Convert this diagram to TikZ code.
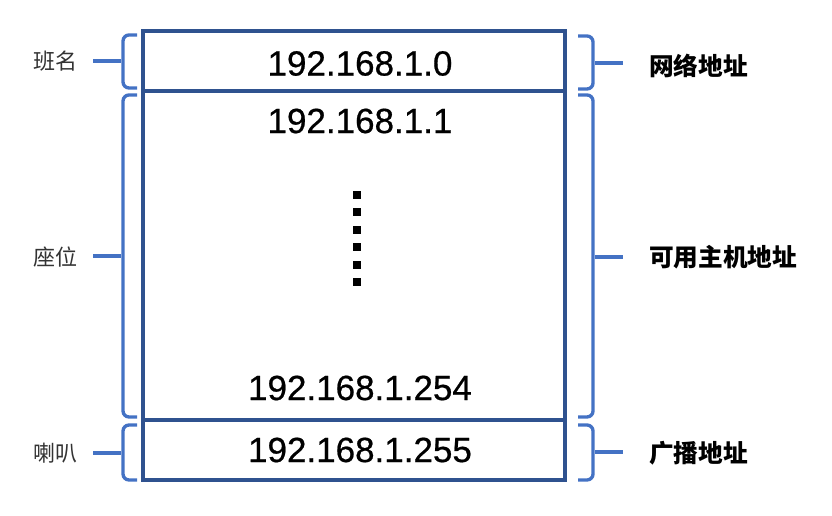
\documentclass[tikz,border=0pt]{standalone}
\usepackage{fontspec}
\setmainfont{Liberation Sans}
\newfontfamily\ipfont[FakeBold=0.6]{Liberation Sans}
\newfontfamily\cjk{Noto Sans CJK SC}
\definecolor{boxblue}{HTML}{2F528F}
\definecolor{braceblue}{HTML}{4472C4}
\definecolor{labelgray}{HTML}{333333}
\begin{document}
\begin{tikzpicture}[x=0.75pt,y=-0.75pt,
  sect/.style={draw=boxblue,line width=2.5pt,minimum width=316.5pt,inner sep=0,anchor=center},
  bracestyle/.style={draw=braceblue,line width=2.5pt,rounded corners=4.5pt},
  tick/.style={draw=braceblue,line width=2.5pt},
  ip/.style={font=\ipfont\fontsize{26.25}{30}\selectfont,text=black,inner sep=0},
  lbl/.style={font=\cjk\fontsize{16.5}{20}\selectfont,text=labelgray,inner sep=0},
  rlbl/.style={font=\cjk\bfseries\fontsize{18.5}{22}\selectfont,text=black,anchor=west,inner sep=0},
  dotsq/.style={fill=black,minimum size=6pt,inner sep=0}]
\useasboundingbox (0,0) rectangle (832,516);
% sections of the address block
\node[sect,minimum height=45pt] (net) at (354,61) {};
\node[sect,minimum height=246.75pt] (hosts) at (354,255.5) {};
\node[sect,minimum height=45pt] (bc) at (354,450) {};
% addresses
\node[ip] (ip0) at (360,63.5) {192.168.1.0};
\node[ip] (ip1) at (360,121) {192.168.1.1};
\node[ip] (ip254) at (360,388) {192.168.1.254};
\node[ip] (ip255) at (360,450) {192.168.1.255};
% vertical dots
\foreach \i [count=\k] in {195,212.4,229.8,247.2,264.6,282}
  \node[dotsq] (d\k) at (357,\i) {};
% left braces
\draw[bracestyle] (137,35) -- (123,35) -- (123,88) -- (137,88);
\draw[bracestyle] (137,95) -- (123,95) -- (123,417) -- (137,417);
\draw[bracestyle] (137,425) -- (123,425) -- (123,480) -- (137,480);
\coordinate (lb1) at (121,61);
\coordinate (lb2) at (121,256);
\coordinate (lb3) at (121,453);
\coordinate (le1) at (93,61);
\coordinate (le2) at (93,256);
\coordinate (le3) at (93,453);
\draw[tick] (lb1) -- (le1);
\draw[tick] (lb2) -- (le2);
\draw[tick] (lb3) -- (le3);
\node[lbl] (l1) at (55,61) {班名};
\node[lbl] (l2) at (55,257) {座位};
\node[lbl] (l3) at (55,453) {喇叭};
% right braces
\draw[bracestyle] (578,36) -- (593,36) -- (593,89) -- (578,89);
\draw[bracestyle] (578,95) -- (593,95) -- (593,417) -- (578,417);
\draw[bracestyle] (578,425) -- (593,425) -- (593,480) -- (578,480);
\coordinate (rb1) at (595,63);
\coordinate (rb2) at (595,257);
\coordinate (rb3) at (595,452);
\coordinate (re1) at (623,63);
\coordinate (re2) at (623,257);
\coordinate (re3) at (623,452);
\draw[tick] (rb1) -- (re1);
\draw[tick] (rb2) -- (re2);
\draw[tick] (rb3) -- (re3);
\node[rlbl] (r1) at (649,66) {网络地址};
\node[rlbl] (r2) at (649,257) {可用主机地址};
\node[rlbl] (r3) at (649,453) {广播地址};
\end{tikzpicture}
\end{document}
